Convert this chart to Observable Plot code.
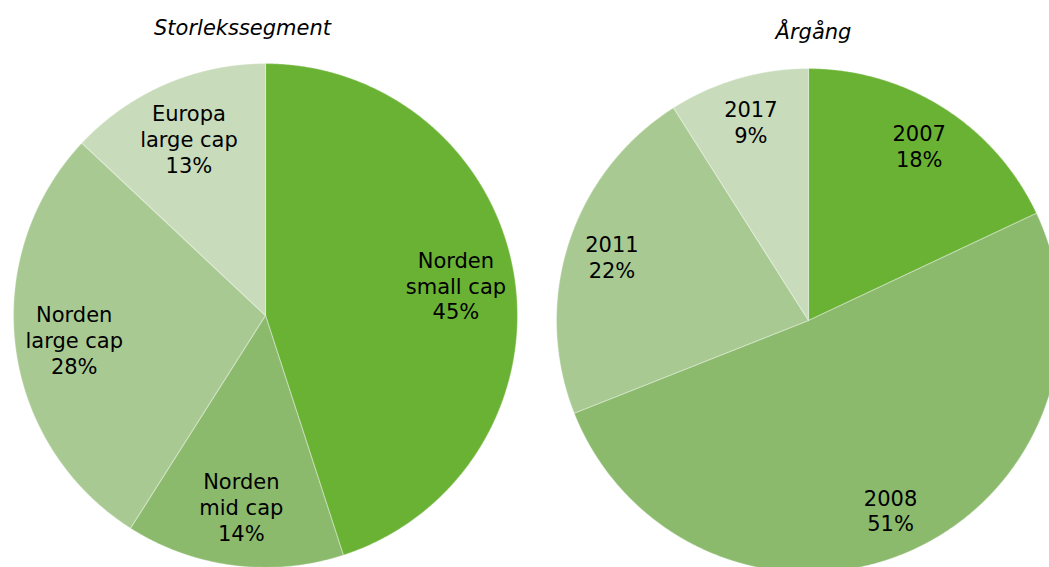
<!DOCTYPE html>
<html>
<head>
<meta charset="utf-8">
<script src="https://cdn.jsdelivr.net/npm/d3@7"></script>
<script src="https://cdn.jsdelivr.net/npm/@observablehq/plot@0.6"></script>
<style>
  html, body { margin: 0; padding: 0; background: #fff; }
  #chart svg { display: block; }
</style>
</head>
<body>
<div id="chart"></div>
<script>
// ---- Data ----
const segTitle = "Storlekssegment";
const segLabels = ["Norden\nsmall cap", "Norden\nmid cap", "Norden\nlarge cap", "Europa\nlarge cap"];
const segValues = [45, 14, 28, 13];

const yearTitle = "Årgång";
const yearLabels = ["2007", "2008", "2011", "2017"];
const yearValues = [18, 51, 22, 9];

const sliceColors = ["#6AB234", "#8BBA6D", "#A8CA92", "#C8DBBA"];

// ---- Layout ----
const W = 1049, H = 567, R = 252;
const pies = [
  {title: segTitle, labels: segLabels, values: segValues, cx: 265, cy: 315, labelR: 0.765, titleX: 242, titleY: 28},
  {title: yearTitle, labels: yearLabels, values: yearValues, cx: 808, cy: 320, labelR: 0.82, titleX: 813, titleY: 32}
];

const polys = [];
const labels = [];
const titles = [];
pies.forEach((p, pi) => {
  const data = p.labels.map((l, i) => ({label: l, value: p.values[i], color: sliceColors[i]}));
  const arcs = d3.pie().sort(null).value(d => d.value)(data);
  arcs.forEach((a, i) => {
    const key = pi + "-" + i;
    polys.push({key, x: p.cx, y: p.cy, color: a.data.color});
    const n = Math.max(2, Math.ceil((a.endAngle - a.startAngle) / 0.005));
    for (let k = 0; k <= n; k++) {
      const t = a.startAngle + (a.endAngle - a.startAngle) * k / n;
      polys.push({key, x: p.cx + R * Math.sin(t), y: p.cy - R * Math.cos(t), color: a.data.color});
    }
    polys.push({key, x: p.cx, y: p.cy, color: a.data.color});
    const mid = (a.startAngle + a.endAngle) / 2;
    labels.push({
      x: p.cx + R * p.labelR * Math.sin(mid),
      y: p.cy - R * p.labelR * Math.cos(mid),
      text: a.data.label + "\n" + a.data.value + "%"
    });
  });
  titles.push({x: p.titleX, y: p.titleY, text: p.title});
});

const chart = Plot.plot({
  width: W,
  height: H,
  margin: 0,
  x: {domain: [0, W], axis: null},
  y: {domain: [H, 0], axis: null},
  style: {background: "#fff", overflow: "hidden"},
  marks: [
    Plot.line(polys, {x: "x", y: "y", z: "key", fill: "color", stroke: "#fff", strokeOpacity: 0.3, strokeWidth: 1.2, clip: true}),
    Plot.text(labels, {x: "x", y: "y", text: "text", fontSize: 21, lineHeight: 1.23, fontFamily: "DejaVu Sans, Verdana, sans-serif", fill: "#000"}),
    Plot.text(titles, {x: "x", y: "y", text: "text", fontSize: 21, fontStyle: "italic", fontFamily: "DejaVu Sans, Verdana, sans-serif", fill: "#000"})
  ]
});
document.getElementById("chart").appendChild(chart);
</script>
</body>
</html>
